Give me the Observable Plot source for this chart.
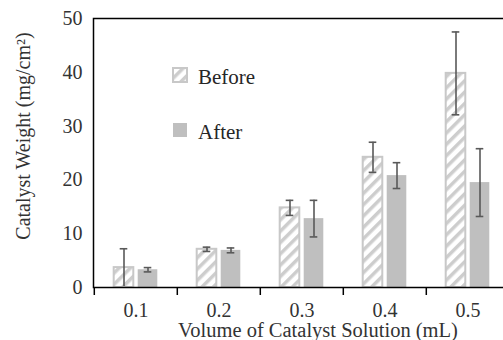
<!DOCTYPE html>
<html><head><meta charset="utf-8">
<script src="https://cdn.jsdelivr.net/npm/d3@7"></script>
<script src="https://cdn.jsdelivr.net/npm/@observablehq/plot@0.6"></script>
<style>
html,body{margin:0;padding:0;background:#fff;overflow:hidden;}
#wrap{position:relative;width:503px;height:340px;overflow:hidden;}
#wrap svg text{font-family:"Liberation Serif" !important;}
</style></head><body><div id="wrap"></div>
<script>
const categories = ["0.1", "0.2", "0.3", "0.4", "0.5"];
const beforeValues = [3.7, 7.1, 14.8, 24.2, 39.8];
const beforeErrors = [3.5, 0.4, 1.4, 2.8, 7.7];
const afterValues = [3.3, 6.9, 12.8, 20.8, 19.5];
const afterErrors = [0.4, 0.45, 3.4, 2.4, 6.3];
const yTicks = [0, 10, 20, 30, 40, 50];
const seriesNames = ["Before", "After"];
const xTitle = "Volume of Catalyst Solution (mL)";
const yTitle = "Catalyst Weight (mg/cm²)";

const before = categories.map((c, i) => ({cat: c, v: beforeValues[i], e: beforeErrors[i]}));
const after = categories.map((c, i) => ({cat: c, v: afterValues[i], e: afterErrors[i]}));

const W = 503, H = 340, mL = 93, mR = -7, mT = 18, mB = 53;
const band = (W - mR - mL) / categories.length;
const half = band / 2;
const barW = 20, gap = 4, capW = 8;
const offB = -(gap / 2 + barW / 2), offA = gap / 2 + barW / 2;
const insB = {insetLeft: half - gap / 2 - barW, insetRight: half + gap / 2};
const insA = {insetLeft: half + gap / 2, insetRight: half - gap / 2 - barW};
const capIns = (off) => ({insetLeft: half + off - capW / 2, insetRight: half - off - capW / 2});
const errColor = "#595959", font = "Liberation Serif", textColor = "#333333";

const errMarks = (data, off) => [
  Plot.ruleX(data, {x: "cat", y1: d => Math.max(0, d.v - d.e), y2: d => d.v + d.e, dx: off, stroke: errColor, strokeWidth: 1.6}),
  Plot.tickY(data, {x: "cat", y: d => d.v + d.e, ...capIns(off), stroke: errColor, strokeWidth: 1.6}),
  Plot.tickY(data.filter(d => d.v - d.e > 0.5), {x: "cat", y: d => d.v - d.e, ...capIns(off), stroke: errColor, strokeWidth: 1.6})
];

const chart = Plot.plot({
  width: W, height: H, marginLeft: mL, marginRight: mR, marginTop: mT, marginBottom: mB,
  x: {type: "band", domain: categories, padding: 0, tickSize: 0, tickPadding: 15, label: null},
  y: {domain: [0, 50], ticks: yTicks, tickSize: 0, tickPadding: 11, label: null},
  marks: [
    Plot.barY(before, {x: "cat", y: "v", fill: "url(#hatch)", stroke: "#c8c8c8", strokeWidth: 2, ...insB}),
    Plot.barY(after, {x: "cat", y: "v", fill: "#bfbfbf", ...insA}),
    ...errMarks(before, offB),
    ...errMarks(after, offA),
    Plot.frame({stroke: "#000", strokeWidth: 1.5}),
    Plot.ruleX(categories, {x: d => d, y1: 0, y2: 0, dx: -half, insetBottom: -8, stroke: "#000", strokeWidth: 1.5}),
    Plot.text([yTitle], {frameAnchor: "left", text: d => d, rotate: -90, textAnchor: "middle", lineAnchor: "middle", dx: -70, dy: -17, fontSize: 20, fontFamily: font, fill: textColor}),
    Plot.text([xTitle], {frameAnchor: "bottom", text: d => d, textAnchor: "middle", lineAnchor: "bottom", dx: 16, dy: 49, fontSize: 20.5, fontFamily: font, fill: textColor})
  ]
});

const svg = d3.select(chart);
const pat = svg.insert("defs", ":first-child").append("pattern")
  .attr("id", "hatch").attr("patternUnits", "userSpaceOnUse")
  .attr("width", 8).attr("height", 8).attr("patternTransform", "rotate(45)");
pat.append("rect").attr("width", 8).attr("height", 8).attr("fill", "#fff");
pat.append("rect").attr("x", 0).attr("width", 3.5).attr("height", 8).attr("fill", "#cdcdcd");

svg.selectAll("[aria-label^='x-axis'] text, [aria-label^='y-axis'] text")
  .attr("font-size", 20).attr("fill", textColor);

seriesNames.forEach((name, i) => {
  const y0 = 68 + i * 55;
  svg.append("rect").attr("x", 173).attr("y", y0).attr("width", 14).attr("height", 14)
    .attr("fill", i === 0 ? "url(#hatch)" : "#bfbfbf")
    .attr("stroke", i === 0 ? "#c8c8c8" : "none").attr("stroke-width", 2);
  svg.append("text").attr("x", 198).attr("y", y0 + 16).attr("font-size", 21)
    .attr("fill", "#262626").attr("text-anchor", "start").text(name);
});

svg.selectAll("text").attr("font-family", font).style("font-family", font);
document.getElementById("wrap").appendChild(chart);
</script></body></html>
